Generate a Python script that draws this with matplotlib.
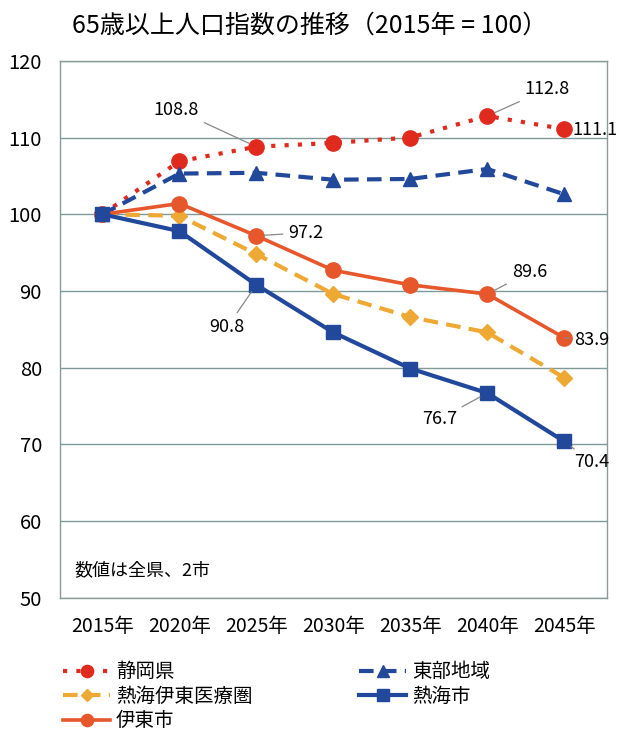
import matplotlib
matplotlib.use("Agg")
import matplotlib.pyplot as plt

plt.rcParams['font.family'] = ['Noto Sans CJK JP', 'DejaVu Sans']

years = ["2015年", "2020年", "2025年", "2030年", "2035年", "2040年", "2045年"]
shizuoka = [100, 106.9, 108.8, 109.3, 110.0, 112.8, 111.1]
tobu = [100, 105.3, 105.4, 104.5, 104.6, 105.9, 102.6]
atami_ito_area = [100, 99.8, 94.8, 89.6, 86.6, 84.6, 78.7]
ito = [100, 101.4, 97.2, 92.7, 90.8, 89.6, 83.9]
atami = [100, 97.8, 90.8, 84.6, 79.9, 76.7, 70.4]

title = "65歳以上人口指数の推移（2015年 = 100）"
note = "数値は全県、2市"

fig = plt.figure(figsize=(6.19, 7.41), dpi=100)
ax = fig.add_axes([0.097, 0.193, 0.883, 0.725])

x = list(range(len(years)))
red = "#e02a1e"
navy = "#21489a"
gold = "#eea834"
orange = "#e6582c"

l1, = ax.plot(x, shizuoka, color=red, linestyle=(0, (1, 2.2)), linewidth=3,
              marker="o", markersize=11, markerfacecolor=red, markeredgecolor=red, label="静岡県")
l2, = ax.plot(x, tobu, color=navy, linestyle=(0, (3.5, 2)), linewidth=3,
              marker="^", markersize=10, markerfacecolor=navy, markeredgecolor=navy, label="東部地域")
l3, = ax.plot(x, atami_ito_area, color=gold, linestyle=(0, (3.5, 2)), linewidth=3,
              marker="D", markersize=8, markerfacecolor=gold, markeredgecolor=gold, label="熱海伊東医療圏")
l4, = ax.plot(x, ito, color=orange, linestyle="-", linewidth=2.6,
              marker="o", markersize=11, markerfacecolor=orange, markeredgecolor=orange, label="伊東市")
l5, = ax.plot(x, atami, color=navy, linestyle="-", linewidth=3,
              marker="s", markersize=10, markerfacecolor=navy, markeredgecolor=navy, label="熱海市")

ax.set_xlim(-0.55, 6.55)
ax.set_ylim(50, 120)
ax.set_yticks(range(50, 121, 10))
ax.set_xticks(x)
ax.set_xticklabels(years)
ax.tick_params(axis="x", length=0, labelsize=14, pad=13)
ax.tick_params(axis="y", length=0, labelsize=14.5, pad=13)
ax.yaxis.grid(True, color="#7f9a96", linewidth=1)
ax.set_axisbelow(True)
for s in ax.spines.values():
    s.set_color("#8a9a98")
    s.set_linewidth(1)

lead = dict(arrowstyle="-", color="#888888", linewidth=0.9, shrinkA=2, shrinkB=6)
fs = 13
ax.annotate("108.8", xy=(2, shizuoka[2]), xytext=(-80, 37), textcoords="offset pixels",
            ha="center", va="center", fontsize=fs, arrowprops=lead)
ax.annotate("112.8", xy=(5, shizuoka[5]), xytext=(60, 27), textcoords="offset pixels",
            ha="center", va="center", fontsize=fs, arrowprops=lead)
ax.annotate("111.1", xy=(6, shizuoka[6]), xytext=(8, -1), textcoords="offset pixels",
            ha="left", va="center", fontsize=fs)
ax.annotate("97.2", xy=(2, ito[2]), xytext=(32, 3), textcoords="offset pixels",
            ha="left", va="center", fontsize=fs, arrowprops=lead)
ax.annotate("90.8", xy=(2, atami[2]), xytext=(-29, -42), textcoords="offset pixels",
            ha="center", va="center", fontsize=fs, arrowprops=lead)
ax.annotate("89.6", xy=(5, ito[5]), xytext=(42, 22), textcoords="offset pixels",
            ha="center", va="center", fontsize=fs, arrowprops=lead)
ax.annotate("83.9", xy=(6, ito[6]), xytext=(10, -2), textcoords="offset pixels",
            ha="left", va="center", fontsize=fs, arrowprops=lead)
ax.annotate("76.7", xy=(5, atami[5]), xytext=(-48, -26), textcoords="offset pixels",
            ha="center", va="center", fontsize=fs, arrowprops=lead)
ax.annotate("70.4", xy=(6, atami[6]), xytext=(10, -21), textcoords="offset pixels",
            ha="left", va="center", fontsize=fs, arrowprops=lead)

ax.text(0.026, 0.035, note, transform=ax.transAxes, fontsize=13, ha="left", va="bottom")

fig.text(0.5, 0.966, title, ha="center", va="center", fontsize=18)

fig.legend(handles=[l1, l3, l4, l2, l5], loc="upper left", bbox_to_anchor=(0.09, 0.118),
           ncol=2, frameon=False, fontsize=14, handlelength=2.4, columnspacing=5.5,
           labelspacing=0.18, handletextpad=0.3, borderaxespad=0, markerscale=0.8)

fig.savefig("out.png", dpi=100, facecolor="white")
